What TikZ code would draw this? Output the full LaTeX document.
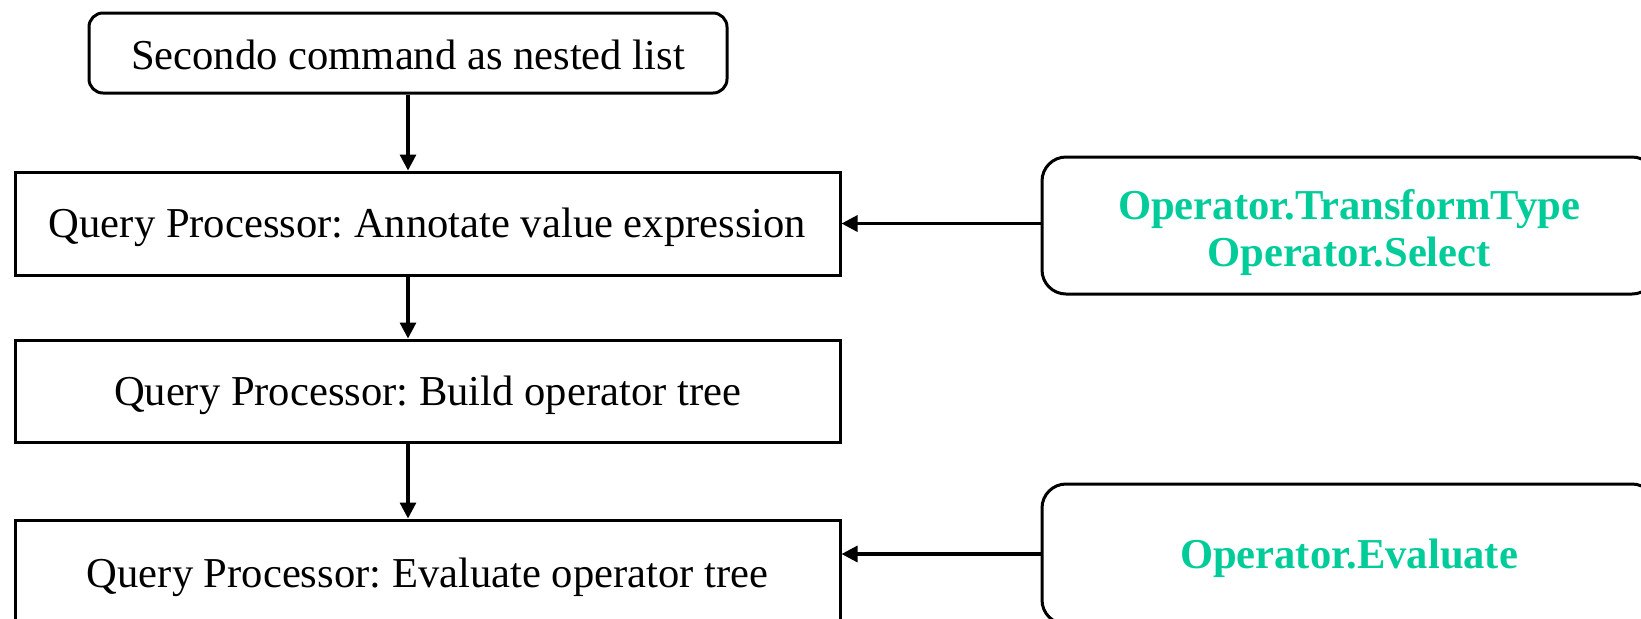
\documentclass[tikz,border=0pt]{standalone}
\usepackage{fontspec}
\setmainfont{Liberation Serif}
\usetikzlibrary{arrows.meta}
\definecolor{opgreen}{RGB}{0,204,153}
\frenchspacing
\begin{document}
\begin{tikzpicture}[x=0.5pt,y=-0.5pt,
  base/.style={draw,line width=1.5pt,inner sep=0pt,anchor=center,
    font=\fontsize{21.3}{23.5}\selectfont,align=center,
    text height=19pt,text depth=5pt},
  procbox/.style={base,minimum width=412.5pt},
  topbox/.style={base,rounded corners=7pt,minimum width=319pt,minimum height=40pt,
    text height=21pt},
  opbox/.style={base,rounded corners=12pt,minimum width=307pt,
    text=opgreen,font=\fontsize{21.3}{23.5}\selectfont\bfseries},
  twoline/.style={text height=45.5pt,text depth=5pt},
  flow/.style={line width=1.6pt,-{Triangle[length=8pt,width=8pt]}}]
\useasboundingbox (0,0) rectangle (1641,618);
\node[topbox] (top) at (408,53) {Secondo command as nested list};
\node[procbox,minimum height=51.5pt] (ann) at (427.5,223.5) {Query Processor: Annotate value expression};
\node[procbox,minimum height=51pt] (build) at (427.5,391) {Query Processor: Build operator tree};
\node[procbox,minimum height=53pt] (eval) at (427.5,573) {Query Processor: Evaluate operator tree};
\node[opbox,twoline,minimum height=68.5pt] (r1) at (1349,225.5) {Operator.TransformType\\Operator.Select};
\node[opbox,minimum height=70pt] (r2) at (1349,554) {Operator.Evaluate};
\draw[flow] (top.south) -- (top.south |- ann.north);
\draw[flow] (top.south |- ann.south) -- (top.south |- build.north);
\draw[flow] (top.south |- build.south) -- (top.south |- eval.north);
\draw[flow] (r1.west |- ann.east) -- (ann.east);
\draw[flow] (r2.west) -- (r2.west -| eval.east);
\end{tikzpicture}
\end{document}
